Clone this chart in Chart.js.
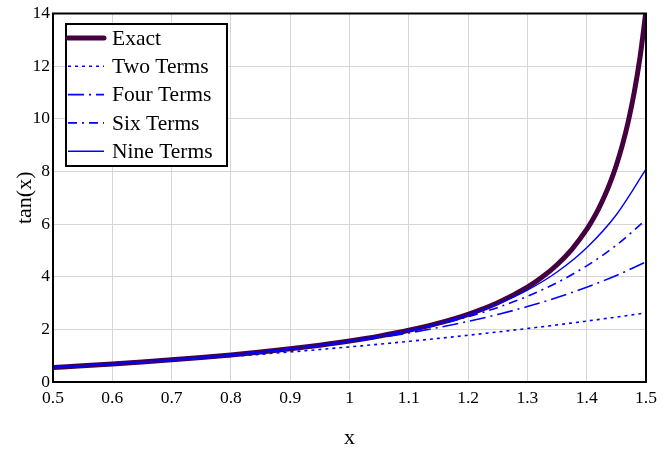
<!DOCTYPE html>
<html>
<head>
<meta charset="utf-8">
<script src="https://cdn.jsdelivr.net/npm/chart.js@4/dist/chart.umd.min.js"></script>
<style>
  html, body { margin: 0; padding: 0; background: #fff; }
  #wrap { width: 670px; height: 449px; position: relative; }
</style>
</head>
<body>
<div id="wrap"><canvas id="chart"></canvas></div>
<script>
// ── Data ──────────────────────────────────────────────────────────────
const approxX = [0.5, 0.55, 0.6, 0.65, 0.7, 0.75, 0.8, 0.85, 0.9, 0.95, 1.0,
                 1.05, 1.1, 1.15, 1.2, 1.25, 1.3, 1.35, 1.4, 1.45, 1.5];
const twoTerms  = [0.5417, 0.6055, 0.672, 0.7415, 0.8143, 0.8906, 0.9707, 1.0547, 1.143, 1.2358, 1.3333,
                   1.4359, 1.5437, 1.6569, 1.776, 1.901, 2.0323, 2.1701, 2.3147, 2.4662, 2.625];
const fourTerms = [0.5463, 0.613, 0.6839, 0.7596, 0.8412, 0.9295, 1.0257, 1.1312, 1.2475, 1.3767, 1.5206,
                   1.682, 1.8636, 2.0687, 2.3012, 2.5653, 2.866, 3.209, 3.6007, 4.0481, 4.5596];
const sixTerms  = [0.5463, 0.6131, 0.6841, 0.7601, 0.8423, 0.9315, 1.0294, 1.1377, 1.2588, 1.3955, 1.5513,
                   1.7311, 1.9405, 2.1869, 2.4799, 2.8314, 3.2568, 3.7753, 4.4115, 5.1958, 6.167];
const nineTerms = [0.5463, 0.6131, 0.6841, 0.7602, 0.8423, 0.9316, 1.0296, 1.1383, 1.2601, 1.3983, 1.5569,
                   1.7423, 1.962, 2.2272, 2.5539, 2.9643, 3.4912, 4.1812, 5.103, 6.3558, 8.0849];

const exactX = [0.5, 0.55, 0.6, 0.65, 0.7, 0.75, 0.8, 0.85, 0.9, 0.95, 1.0, 1.05, 1.1, 1.15, 1.2, 1.25, 1.3,
                1.325, 1.35, 1.375, 1.4, 1.41, 1.42, 1.43, 1.44, 1.45, 1.46, 1.47, 1.48, 1.49, 1.5];
const exactY = [0.5463, 0.6131, 0.6841, 0.7602, 0.8423, 0.9316, 1.0296, 1.1383, 1.2602, 1.3984, 1.5574,
                1.7433, 1.9648, 2.2345, 2.5722, 3.0096, 3.6021, 3.9862, 4.4552, 5.0419, 5.7979, 6.1654,
                6.5811, 7.0555, 7.6018, 8.2381, 8.9887, 9.8874, 10.9834, 12.35, 14.1014];

const xTickLabels = ['0.5', '0.6', '0.7', '0.8', '0.9', '1', '1.1', '1.2', '1.3', '1.4', '1.5'];
const yTickLabels = ['0', '2', '4', '6', '8', '10', '12', '14'];
const seriesNames = ['Exact', 'Two Terms', 'Four Terms', 'Six Terms', 'Nine Terms'];

// ── Styles ────────────────────────────────────────────────────────────
const SERIF = '"Liberation Serif", "Times New Roman", serif';
const PURPLE = '#44003f';
const BLUE = '#0000ff';

const pts = (xs, ys) => xs.map((x, i) => ({ x, y: ys[i] }));

const datasets = [
  { label: seriesNames[1], data: pts(approxX, twoTerms),  borderColor: BLUE, borderWidth: 1.6, borderDash: [3, 4] },
  { label: seriesNames[2], data: pts(approxX, fourTerms), borderColor: BLUE, borderWidth: 1.6, borderDash: [16, 5, 2, 5] },
  { label: seriesNames[3], data: pts(approxX, sixTerms),  borderColor: BLUE, borderWidth: 1.6, borderDash: [9, 5, 2, 5] },
  { label: seriesNames[4], data: pts(approxX, nineTerms), borderColor: BLUE, borderWidth: 1.4, borderDash: [] },
  { label: seriesNames[0], data: pts(exactX, exactY),     borderColor: PURPLE, borderWidth: 5, borderDash: [] },
].map(d => Object.assign(d, {
  pointRadius: 0, fill: false, cubicInterpolationMode: 'monotone', clip: 0,
}));

// ── Frame + legend box ───────────────────────────────────────────────
const framePlugin = {
  id: 'frame',
  afterDatasetsDraw(chart) {
    const { ctx, chartArea: a } = chart;
    ctx.save();
    ctx.strokeStyle = '#000';
    ctx.lineWidth = 2;
    ctx.strokeRect(a.left, a.top, a.right - a.left, a.bottom - a.top);
    ctx.restore();
  },
  afterDraw(chart) {
    const { ctx } = chart;
    const box = { x: 66, y: 24, w: 161, h: 142 };
    ctx.save();
    ctx.fillStyle = '#fff';
    ctx.fillRect(box.x, box.y, box.w, box.h);
    ctx.strokeStyle = '#000';
    ctx.lineWidth = 2;
    ctx.strokeRect(box.x, box.y, box.w, box.h);

    const order = [4, 0, 1, 2, 3];   // Exact first, then the term counts
    order.forEach((di, row) => {
      const ds = chart.data.datasets[di];
      const y = 38 + row * 28.3;
      ctx.beginPath();
      ctx.strokeStyle = ds.borderColor;
      ctx.lineWidth = ds.borderWidth;
      ctx.setLineDash(ds.borderDash);
      ctx.lineCap = di === 4 ? 'round' : 'butt';
      ctx.moveTo(68, y);
      ctx.lineTo(104, y);
      ctx.stroke();
      ctx.setLineDash([]);
      ctx.fillStyle = '#000';
      ctx.font = '21.5px ' + SERIF;
      ctx.textBaseline = 'middle';
      ctx.fillText(ds.label, 112, y + 1);
    });
    ctx.restore();
  },
};

new Chart(document.getElementById('chart'), {
  type: 'line',
  data: { datasets },
  plugins: [framePlugin],
  options: {
    responsive: true,
    maintainAspectRatio: false,
    animation: false,
    layout: { padding: { left: 0, right: 24, top: 11, bottom: 0 } },
    plugins: { legend: { display: false }, tooltip: { enabled: false } },
    scales: {
      x: {
        type: 'linear', min: 0.5, max: 1.5,
        afterFit: s => { s.height = 67; },
        afterBuildTicks: s => { s.ticks = xTickLabels.map(v => ({ value: parseFloat(v) })); },
        grid: { color: '#d6d6d6', lineWidth: 1, drawTicks: false },
        border: { display: false },
        ticks: {
          color: '#000', padding: 6, maxRotation: 0,
          font: { family: SERIF, size: 17.5 },
          callback: (v, i) => xTickLabels[i],
        },
        title: { display: true, text: 'x', color: '#000', font: { family: SERIF, size: 22 }, padding: { top: 0, bottom: -2 } },
      },
      y: {
        type: 'linear', min: 0, max: 14,
        afterFit: s => { s.width = 53; },
        afterBuildTicks: s => { s.ticks = yTickLabels.map(v => ({ value: parseFloat(v) })); },
        grid: { color: '#d6d6d6', lineWidth: 1, drawTicks: false },
        border: { display: false },
        ticks: {
          color: '#000', padding: 3,
          font: { family: SERIF, size: 17.5 },
          callback: (v, i) => yTickLabels[i],
        },
        title: { display: true, text: 'tan(x)', color: '#000', font: { family: SERIF, size: 22 }, padding: { top: 12, bottom: 0 } },
      },
    },
  },
});
</script>
</body>
</html>
